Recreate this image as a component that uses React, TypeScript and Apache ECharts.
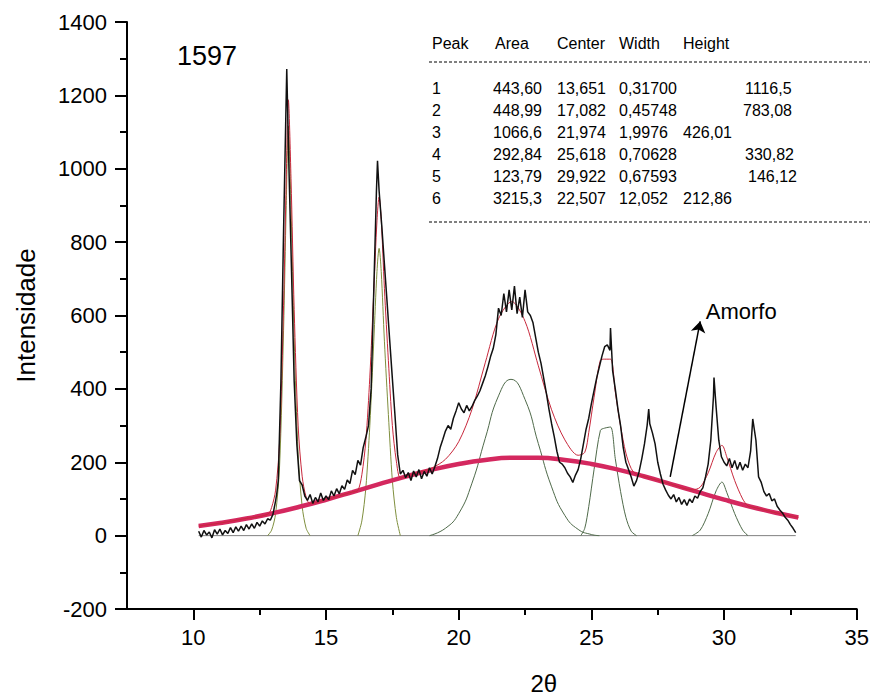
import React, { useEffect, useRef } from "react";
import * as echarts from "echarts";

// ---- axis ticks ----
const xTicks = [10, 15, 20, 25, 30, 35];
const xMinorTicks = [12.5, 17.5, 22.5, 27.5, 32.5];

// ---- observed diffraction pattern (2θ, intensity) ----
const observed: [number, number][] = [
  [10.2, 12], [10.3, -4], [10.4, 14], [10.5, 2], [10.6, 10], [10.7, -6], [10.8, 16], [10.9, 4],
  [11.0, 18], [11.1, 2], [11.2, 14], [11.3, 6], [11.4, 22], [11.5, 8], [11.6, 24], [11.7, 12],
  [11.8, 26], [11.9, 14], [12.0, 30], [12.1, 18], [12.2, 32], [12.3, 20], [12.4, 36], [12.5, 26],
  [12.6, 40], [12.7, 32], [12.8, 46], [12.9, 42], [13.0, 58], [13.1, 95], [13.15, 118], [13.2, 150],
  [13.3, 420], [13.4, 830], [13.52, 1272], [13.6, 1010], [13.7, 720], [13.8, 420], [13.9, 250],
  [14.0, 150], [14.1, 138], [14.2, 108], [14.3, 96], [14.4, 112], [14.5, 88], [14.6, 104], [14.7, 92],
  [14.8, 116], [14.9, 96], [15.0, 108], [15.1, 98], [15.2, 122], [15.3, 108], [15.4, 128], [15.5, 114],
  [15.6, 136], [15.7, 126], [15.8, 152], [15.9, 142], [16.0, 178], [16.1, 166], [16.2, 205], [16.3, 192],
  [16.4, 240], [16.5, 268], [16.6, 300], [16.7, 400], [16.8, 670], [16.9, 940], [16.94, 1022],
  [17.0, 940], [17.1, 845], [17.2, 740], [17.3, 637], [17.4, 532], [17.5, 428], [17.6, 326], [17.7, 220],
  [17.8, 168], [17.9, 178], [18.0, 158], [18.1, 172], [18.2, 150], [18.3, 176], [18.4, 160], [18.5, 180],
  [18.6, 155], [18.7, 175], [18.8, 162], [18.9, 185], [19.0, 168], [19.1, 188], [19.2, 210], [19.3, 240],
  [19.4, 262], [19.5, 285], [19.6, 300], [19.7, 290], [19.8, 320], [19.9, 340], [20.0, 362], [20.1, 345],
  [20.2, 335], [20.3, 355], [20.4, 340], [20.5, 352], [20.6, 368], [20.7, 380], [20.8, 395], [20.9, 415],
  [21.0, 435], [21.1, 460], [21.2, 488], [21.3, 510], [21.4, 548], [21.5, 620], [21.6, 600], [21.7, 660],
  [21.8, 610], [21.9, 670], [22.0, 615], [22.1, 680], [22.2, 605], [22.3, 650], [22.4, 595], [22.5, 670],
  [22.6, 610], [22.7, 600], [22.8, 580], [22.9, 540], [23.0, 500], [23.1, 470], [23.2, 430], [23.3, 390],
  [23.4, 345], [23.5, 305], [23.6, 270], [23.7, 230], [23.8, 200], [23.9, 195], [24.0, 185], [24.1, 170],
  [24.2, 160], [24.3, 145], [24.4, 165], [24.5, 180], [24.6, 210], [24.7, 250], [24.8, 290], [24.9, 320],
  [25.0, 360], [25.1, 395], [25.2, 430], [25.3, 460], [25.4, 490], [25.5, 515], [25.6, 520], [25.7, 505],
  [25.72, 566], [25.8, 450], [25.9, 400], [26.0, 345], [26.1, 300], [26.2, 240], [26.3, 200], [26.4, 180],
  [26.5, 160], [26.6, 135], [26.7, 150], [26.8, 175], [26.9, 210], [27.0, 250], [27.1, 300], [27.16, 345],
  [27.2, 305], [27.3, 280], [27.4, 250], [27.5, 200], [27.6, 168], [27.7, 140], [27.8, 124], [27.9, 110],
  [28.0, 100], [28.1, 112], [28.2, 92], [28.3, 104], [28.4, 85], [28.5, 98], [28.6, 82], [28.7, 100],
  [28.8, 90], [28.9, 108], [29.0, 102], [29.1, 120], [29.2, 130], [29.3, 160], [29.4, 195], [29.5, 260],
  [29.6, 380], [29.62, 431], [29.7, 350], [29.8, 260], [29.9, 215], [30.0, 200], [30.1, 190], [30.2, 210],
  [30.3, 185], [30.4, 205], [30.5, 180], [30.6, 200], [30.7, 178], [30.8, 195], [30.9, 185], [31.0, 230],
  [31.08, 318], [31.2, 260], [31.3, 160], [31.4, 145], [31.5, 120], [31.6, 108], [31.7, 115], [31.8, 95],
  [31.9, 100], [32.0, 80], [32.1, 70], [32.2, 62], [32.3, 50], [32.4, 42], [32.5, 30], [32.6, 20], [32.7, 8],
];

// ---- fitted components ----
const peak1: [number, number][] = [
  [12.8, 0], [12.95, 15], [13.1, 60], [13.25, 190], [13.4, 560], [13.5, 900], [13.58, 1116],
  [13.68, 900], [13.8, 540], [13.95, 220], [14.1, 80], [14.25, 20], [14.4, 0],
];
const peak2: [number, number][] = [
  [16.2, 0], [16.35, 40], [16.5, 130], [16.65, 300], [16.8, 530], [16.92, 720], [17.0, 783],
  [17.08, 720], [17.2, 530], [17.35, 330], [17.5, 150], [17.65, 50], [17.8, 0],
];
const peak3: [number, number][] = [
  [18.9, 0], [19.5, 20], [20.0, 60], [20.5, 143], [21.0, 265], [21.5, 381], [21.97, 426],
  [22.5, 371], [23.0, 251], [23.5, 133], [24.0, 55], [24.5, 17], [25.0, 3], [25.3, 0],
];
const peak4: [number, number][] = [
  [24.6, 0], [24.75, 20], [24.9, 79], [25.1, 180], [25.34, 287], [25.5, 293], [25.72, 296],
  [25.9, 210], [26.1, 120], [26.3, 50], [26.5, 12], [26.7, 0],
];
const peak5: [number, number][] = [
  [28.8, 0], [29.1, 15], [29.4, 60], [29.7, 122], [29.92, 146], [30.1, 118], [30.4, 60], [30.7, 15], [30.9, 0],
];
const amorphous: [number, number][] = [
  [10.2, 26.4], [11, 34.4], [12, 46.5], [13, 61.3], [14, 78.6], [15, 97.9], [16, 118.8], [17, 140.2],
  [18, 160.9], [19, 179.7], [20, 195.2], [21, 206.3], [22, 212.1], [23, 212.1], [24, 206.4], [25, 195.4],
  [26, 180.0], [27, 161.2], [28, 140.5], [29, 119.1], [30, 98.2], [31, 78.8], [32, 61.5], [32.8, 49.5],
];
const totalFit: [number, number][] = [
  [10.2, 26], [11, 34], [12, 47], [12.8, 58], [12.95, 77], [13.1, 124], [13.25, 256], [13.4, 628],
  [13.5, 970], [13.58, 1188], [13.68, 974], [13.8, 616], [13.95, 299], [14.1, 162], [14.25, 105],
  [14.4, 87], [15, 98], [16, 119], [16.2, 123], [16.35, 166], [16.5, 259], [16.65, 432], [16.8, 666],
  [16.92, 858], [17.0, 923], [17.08, 862], [17.2, 674], [17.35, 477], [17.5, 300], [17.65, 203],
  [17.8, 157], [18, 161], [19, 185], [19.5, 208], [20, 256], [20.5, 344], [21, 471], [21.5, 591],
  [22, 638], [22.5, 584], [23, 463], [23.5, 343], [24, 261], [24.5, 219], [24.75, 227], [24.9, 281],
  [25.1, 377], [25.34, 478], [25.5, 481], [25.72, 481], [25.9, 392], [26.1, 298], [26.3, 225],
  [26.5, 183], [26.7, 167], [27, 161], [28, 140.5], [28.8, 125], [29.1, 132], [29.4, 171], [29.7, 227],
  [29.92, 246], [30.1, 215], [30.4, 150], [30.7, 100], [30.9, 80.5], [31, 79], [32, 61.5], [32.8, 49.5],
];
const baseline: [number, number][] = [[10.2, 0], [32.7, 0]];

// ---- annotation ----
const arrowFrom: [number, number] = [27.97, 160];
const arrowTo: [number, number] = [29.1, 584];
const amorfoLabel = "Amorfo";
const amorfoAt: [number, number] = [29.31, 610];
const sampleLabel = "1597";

// ---- fit table ----
const tableHeader = ["Peak", "Area", "Center", "Width", "Height"];
const tablePeak = ["1", "2", "3", "4", "5", "6"];
const tableArea = ["443,60", "448,99", "1066,6", "292,84", "123,79", "3215,3"];
const tableCenter = ["13,651", "17,082", "21,974", "25,618", "29,922", "22,507"];
const tableWidth = ["0,31700", "0,45748", "1,9976", "0,70628", "0,67593", "12,052"];
const tableHeight = ["1116,5", "783,08", "426,01", "330,82", "146,12", "212,86"];

const FONT = "'Liberation Sans', Arial, Helvetica, sans-serif";

export default function App() {
  const ref = useRef<HTMLDivElement>(null);
  useEffect(() => {
    if (!ref.current) return;
    const chart = echarts.init(ref.current, undefined, { renderer: "svg" });

    const txt = (text: string, x: number, y: number, size: number) => ({
      type: "text",
      x,
      y,
      silent: true,
      style: { text, fontSize: size, fontFamily: FONT, fill: "#000", verticalAlign: "middle", align: "left" },
    });
    const headerX = [432, 495, 557, 619, 683];
    const colX = [432, 493, 557, 619];
    const heightX = [745, 743, 683, 745, 748, 683];
    const rowY = [88, 110, 132, 154, 176, 198];
    const graphics: any[] = [];
    tableHeader.forEach((h, i) => graphics.push(txt(h, headerX[i], 43, 16)));
    tablePeak.forEach((_, r) => {
      graphics.push(txt(tablePeak[r], colX[0], rowY[r], 16));
      graphics.push(txt(tableArea[r], colX[1], rowY[r], 16));
      graphics.push(txt(tableCenter[r], colX[2], rowY[r], 16));
      graphics.push(txt(tableWidth[r], colX[3], rowY[r], 16));
      graphics.push(txt(tableHeight[r], heightX[r], rowY[r], 16));
    });
    [62, 222].forEach((y) =>
      graphics.push({
        type: "line",
        silent: true,
        shape: { x1: 429, y1: y, x2: 870, y2: y },
        style: { stroke: "#000", lineWidth: 1, lineDash: [3, 2] },
      })
    );
    graphics.push(txt(sampleLabel, 177, 56, 27));

    const lineSeries = (name: string, data: [number, number][], color: string, width: number, smooth: any, z: number) => ({
      name,
      type: "line",
      data,
      symbol: "none",
      smooth,
      z,
      lineStyle: { color, width },
      itemStyle: { color },
      silent: true,
    });

    chart.setOption({
      animation: false,
      backgroundColor: "#fff",
      grid: { left: 127, right: 15, top: 22, bottom: 87, containLabel: false },
      graphic: graphics,
      xAxis: [
        {
          type: "value",
          min: 7.5,
          max: 35,
          position: "bottom",
          axisLine: { show: true, onZero: false, lineStyle: { color: "#000", width: 2 } },
          axisTick: { show: true, length: 11, customValues: xTicks, lineStyle: { color: "#000", width: 2 } },
          axisLabel: { customValues: xTicks, fontSize: 22, color: "#000", margin: 17, fontFamily: FONT },
          splitLine: { show: false },
          name: "2θ",
          nameLocation: "middle",
          nameGap: 62,
          nameTextStyle: { fontSize: 24, color: "#000", fontFamily: FONT, padding: [0, 0, 0, 104] },
        },
        {
          type: "value",
          min: 7.5,
          max: 35,
          position: "bottom",
          offset: 0,
          axisLine: { show: false, onZero: false },
          axisTick: { show: true, length: 6, customValues: xMinorTicks, lineStyle: { color: "#000", width: 2 } },
          axisLabel: { show: false },
          splitLine: { show: false },
        },
      ],
      yAxis: {
        type: "value",
        min: -200,
        max: 1400,
        interval: 200,
        axisLine: { show: true, onZero: false, lineStyle: { color: "#000", width: 2 } },
        axisTick: { show: true, length: 12, lineStyle: { color: "#000", width: 2 } },
        minorTick: { show: true, splitNumber: 2, length: 7, lineStyle: { color: "#000", width: 2 } },
        axisLabel: {
          fontSize: 22,
          color: "#000",
          margin: 20,
          fontFamily: FONT,
          formatter: (v: number) => String(v),
        },
        splitLine: { show: false },
        minorSplitLine: { show: false },
        name: "Intensidade",
        nameLocation: "middle",
        nameGap: 88,
        nameRotate: 90,
        nameTextStyle: { fontSize: 26, color: "#000", fontFamily: FONT },
      },
      series: [
        lineSeries("baseline", baseline, "#808080", 1, false, 1),
        lineSeries("peak1", peak1, "#7f8f3e", 1, 0.3, 2),
        lineSeries("peak2", peak2, "#7f8f3e", 1, 0.3, 2),
        lineSeries("peak3", peak3, "#4f6a4a", 1, true, 2),
        lineSeries("peak4", peak4, "#4f6a4a", 1, 0.3, 2),
        lineSeries("peak5", peak5, "#4f6a4a", 1, 0.3, 2),
        {
          ...lineSeries("amorphous", amorphous, "#d4285f", 4.5, true, 3),
          markLine: {
            silent: true,
            symbol: ["none", "arrow"],
            symbolSize: 11,
            label: { show: false },
            lineStyle: { color: "#000", width: 1.5, type: "solid" },
            data: [[{ coord: arrowFrom }, { coord: arrowTo }]],
          },
          markPoint: {
            silent: true,
            symbol: "circle",
            symbolSize: 0,
            label: {
              show: true,
              position: "right",
              distance: 0,
              formatter: amorfoLabel,
              fontSize: 22,
              color: "#000",
              fontFamily: FONT,
            },
            data: [{ coord: amorfoAt }],
          },
        },
        lineSeries("totalFit", totalFit, "#c8283c", 1, 0.3, 4),
        lineSeries("observed", observed, "#111111", 1.5, false, 5),
      ],
    });
    return () => chart.dispose();
  }, []);
  return <div ref={ref} style={{ position: "fixed", left: 0, top: 0, width: 872, height: 700 }} />;
}
